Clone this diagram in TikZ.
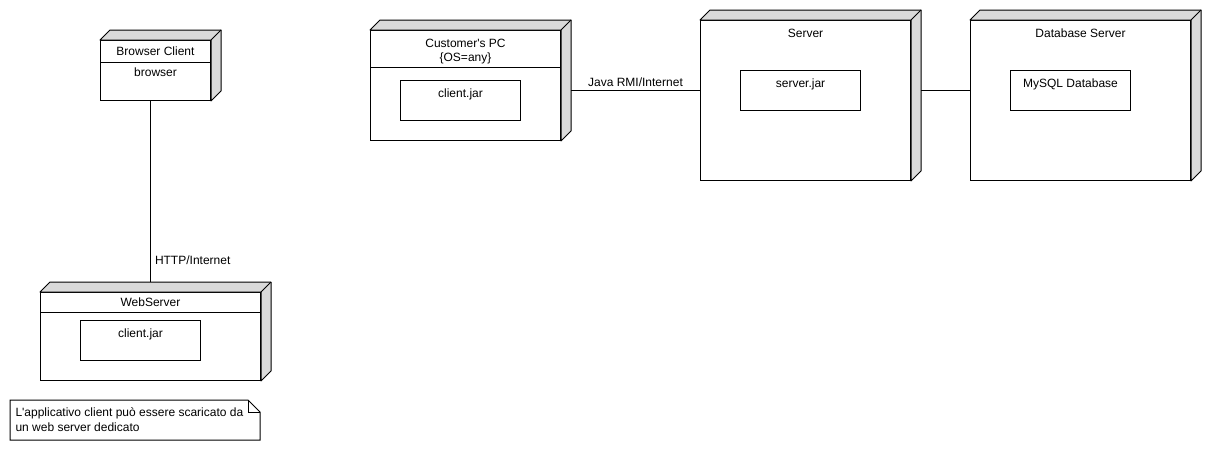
\documentclass[tikz,border=0pt]{standalone}
\usepackage{fontspec}
\setmainfont{Liberation Sans}
\usetikzlibrary{positioning,calc}
\tikzstyle{face}=[draw, fill=white, inner sep=0pt, anchor=north west]
\tikzstyle{side}=[draw, fill=black!15, line join=round]
\tikzstyle{artefact}=[draw, fill=white, inner sep=0pt, anchor=north west, minimum width=90pt, minimum height=30pt]
\tikzstyle{txt}=[inner sep=0pt, font=\fontsize{9pt}{10.5pt}\selectfont, align=center]

\begin{document}
\begin{tikzpicture}[x=0.75pt, y=-0.75pt, line width=0.75pt]
\useasboundingbox (0,0) rectangle (1210,450);

% noeuds
\node[face, minimum width=82.5pt, minimum height=45pt] (browser) at (100,40) {};
\node[face, minimum width=165pt, minimum height=66pt] (webserver) at (40,292) {};
\node[face, minimum width=142.5pt, minimum height=82.5pt] (pc) at (370,30) {};
\node[face, minimum width=157.5pt, minimum height=120pt] (server) at (700,20) {};
\node[face, minimum width=165pt, minimum height=120pt] (dbserver) at (970,20) {};

% profondeur
\foreach \n in {browser,webserver,pc,server,dbserver}{
  \draw[side] (\n.north west) -- ++(10,-10) -- ($(\n.north east)+(10,-10)$) -- ($(\n.south east)+(10,-10)$) -- (\n.south east) -- (\n.north east) -- cycle;
  \draw (\n.north east) -- ++(10,-10);
}

% compartiments
\draw ($(browser.north west)+(0,22)$) -- ($(browser.north east)+(0,22)$);
\draw ($(webserver.north west)+(0,20)$) -- ($(webserver.north east)+(0,20)$);
\draw ($(pc.north west)+(0,37)$) -- ($(pc.north east)+(0,37)$);

% titres
\node[txt, below=4.9pt of browser.north] (browserT) {Browser Client};
\node[txt, below=20.6pt of browser.north] (browserB) {browser};
\node[txt, below=4.1pt of webserver.north] (webserverT) {WebServer};
\node[txt, below=6.4pt of pc.north] (pcT) {Customer\textquotesingle s PC\\\{OS=any\}};
\node[txt, below=6.4pt of server.north] (serverT) {Server};
\node[txt, below=6.4pt of dbserver.north] (dbserverT) {Database Server};

% artefacts
\node[artefact] (webjar) at (80,320) {};
\node[artefact] (pcjar) at (400,80) {};
\node[artefact] (serverjar) at (740,70) {};
\node[artefact] (mysql) at (1010,70) {};
\node[txt, below=6.4pt of webjar.north] {client.jar};
\node[txt, below=6.4pt of pcjar.north] {client.jar};
\node[txt, below=6.4pt of serverjar.north] {server.jar};
\node[txt, below=6.4pt of mysql.north] {MySQL Database};

% liens
\coordinate (webtop) at ($(webserver.north)+(0,-10)$);
\draw ([xshift=-3.75pt]browser.south) -- ([xshift=-3.75pt]browser.south |- webtop) node[txt, pos=0.88, right=3pt] {HTTP/Internet};
\draw ($(pc.east)+(10,5)$) -- node[txt, above=2.4pt]{Java RMI/Internet} ($(server.west)+(0,-10)$);
\draw ($(server.east)+(10,-10)$) -- ($(dbserver.west)+(0,-10)$);

% note
\draw (10,400) -- (248,400) -- (260,412) -- (260,440) -- (10,440) -- cycle;
\draw (248,400) -- (248,412) -- (260,412);
\node[txt, anchor=north west, align=left, font=\fontsize{9pt}{11.2pt}\selectfont] (note) at (15,407) {L\textquotesingle applicativo client può essere scaricato da\\un web server dedicato};

\end{tikzpicture}
\end{document}
